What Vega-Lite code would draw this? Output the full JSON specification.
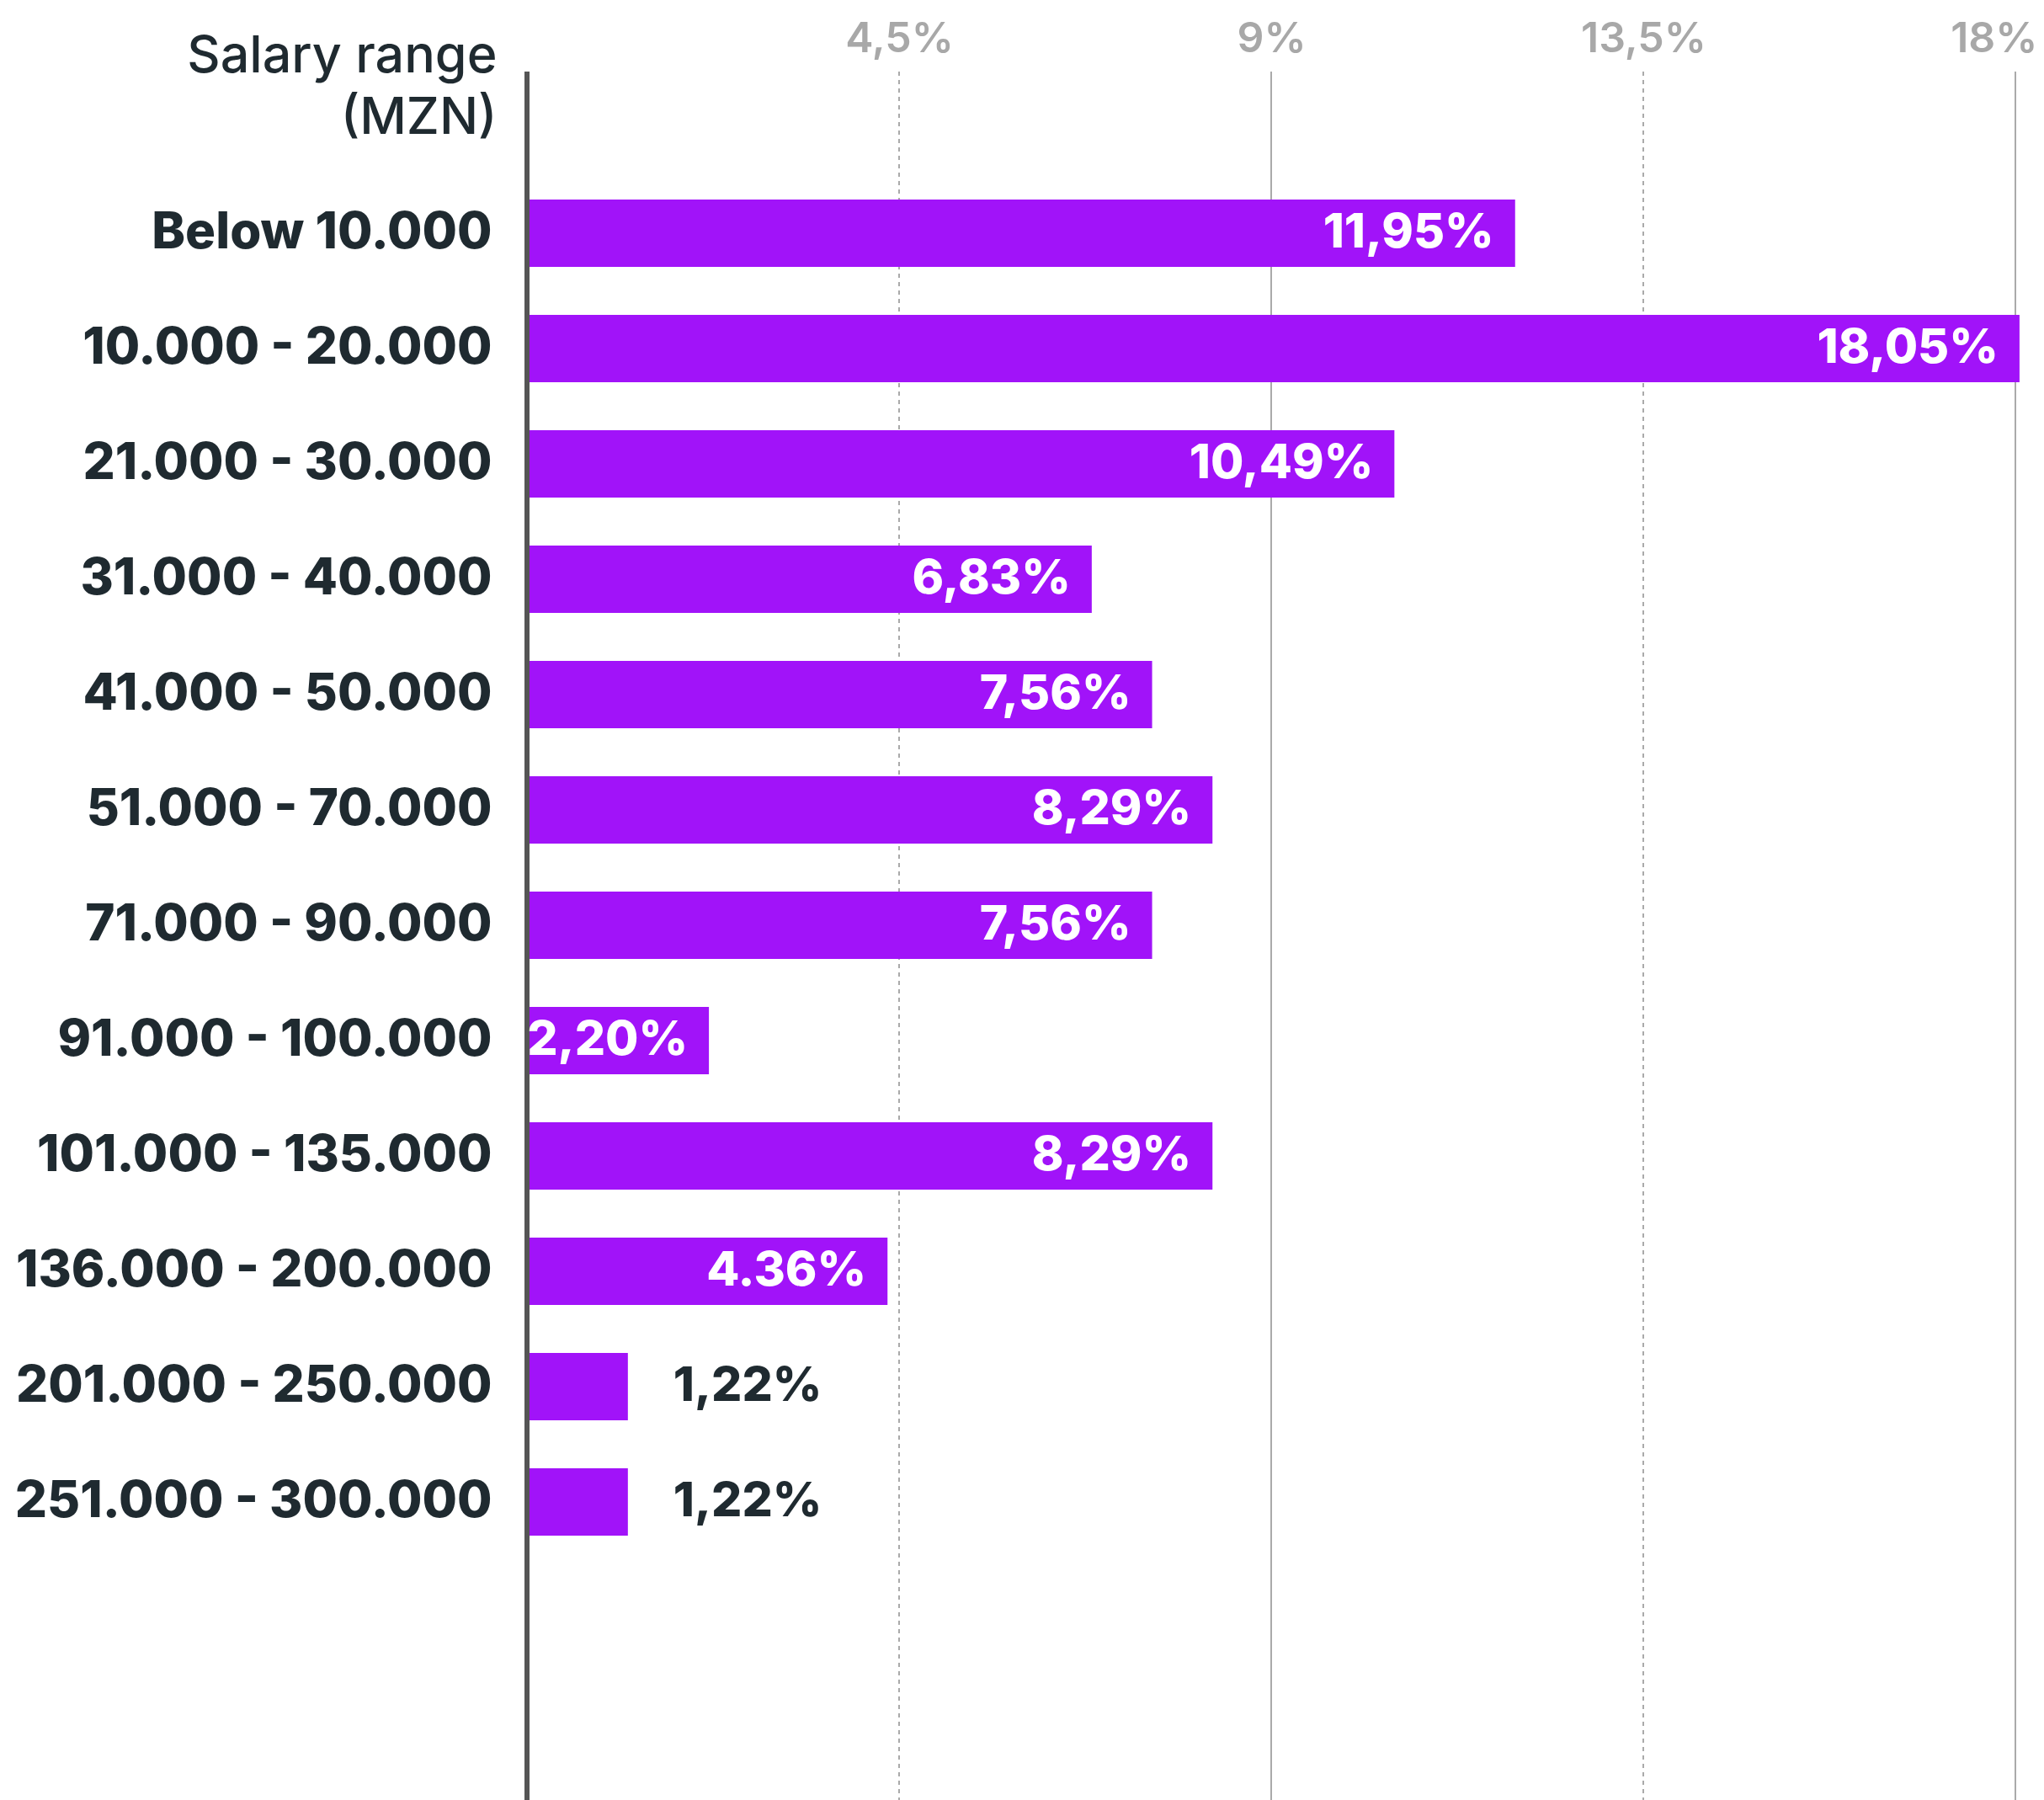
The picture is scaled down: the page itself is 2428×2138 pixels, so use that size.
{
  "$schema": "https://vega.github.io/schema/vega-lite/v6.json",
  "width": 1768,
  "height": 2053,
  "autosize": "none",
  "padding": {"left": 626, "top": 85, "right": 34, "bottom": 0},
  "background": "white",
  "config": {"view": {"stroke": null}, "font": "Inter"},
  "data": {
    "values": [
      {"range": "Below 10.000", "pct": 11.95, "label": "11,95%"},
      {"range": "10.000 - 20.000", "pct": 18.05, "label": "18,05%"},
      {"range": "21.000 - 30.000", "pct": 10.49, "label": "10,49%"},
      {"range": "31.000 - 40.000", "pct": 6.83, "label": "6,83%"},
      {"range": "41.000 - 50.000", "pct": 7.56, "label": "7,56%"},
      {"range": "51.000 - 70.000", "pct": 8.29, "label": "8,29%"},
      {"range": "71.000 - 90.000", "pct": 7.56, "label": "7,56%"},
      {"range": "91.000 - 100.000", "pct": 2.20, "label": "2,20%"},
      {"range": "101.000 - 135.000", "pct": 8.29, "label": "8,29%"},
      {"range": "136.000 - 200.000", "pct": 4.36, "label": "4.36%"},
      {"range": "201.000 - 250.000", "pct": 1.22, "label": "1,22%"},
      {"range": "251.000 - 300.000", "pct": 1.22, "label": "1,22%"}
    ]
  },
  "layer": [
    {
      "data": {"values": [{"tick": 4.5}, {"tick": 9}, {"tick": 13.5}, {"tick": 18}]},
      "mark": {"type": "rule", "color": "#aaaaaa", "strokeWidth": 2},
      "encoding": {
        "x": {
          "field": "tick",
          "type": "quantitative",
          "scale": {"domain": [0, 18], "nice": false},
          "axis": {
            "orient": "top",
            "title": null,
            "values": [4.5, 9, 13.5, 18],
            "labelExpr": "replace(datum.value + '', '.', ',') + '%'",
            "labelFont": "Inter",
            "labelFontSize": 50,
            "labelFontWeight": 600,
            "labelColor": "#a8a8a8",
            "labelBaseline": "middle",
            "labelPadding": 39,
            "labelFlush": true,
            "labelFlushOffset": 26,
            "ticks": false,
            "tickSize": 0,
            "domain": false,
            "grid": false
          }
        },
        "strokeDash": {"condition": {"test": "datum.tick % 9 !== 0", "value": [5, 5]}, "value": [1, 0]}
      }
    },
    {
      "mark": {"type": "bar", "color": "#A113F9"},
      "encoding": {
        "x": {"field": "pct", "type": "quantitative"},
        "y": {
          "field": "range",
          "type": "nominal",
          "sort": null,
          "scale": {"range": [152, 1739], "paddingInner": 0.416, "paddingOuter": 0},
          "axis": {
            "title": ["Salary range", "(MZN)"],
            "titleAngle": 0,
            "titleAlign": "right",
            "titleBaseline": "middle",
            "titleX": -36,
            "titleY": -18,
            "titleFont": "Inter",
            "titleFontSize": 61,
            "titleFontWeight": 500,
            "titleColor": "#1f2a30",
            "titleLineHeight": 73,
            "labelFont": "Inter",
            "labelFontSize": 60,
            "labelFontWeight": 800,
            "labelColor": "#1f2a30",
            "labelPadding": 42,
            "labelLimit": 1000,
            "ticks": false,
            "tickSize": 0,
            "domain": false,
            "grid": false
          }
        }
      }
    },
    {
      "data": {"values": [{"axis": 0}]},
      "mark": {"type": "rule", "color": "#555555", "strokeWidth": 6},
      "encoding": {"x": {"field": "axis", "type": "quantitative"}}
    },
    {
      "transform": [{"filter": "datum.pct >= 2"}],
      "mark": {"type": "text", "align": "right", "baseline": "middle", "dx": -25, "color": "white", "font": "Inter", "fontSize": 57, "fontWeight": 800},
      "encoding": {
        "x": {"field": "pct", "type": "quantitative"},
        "y": {"field": "range", "type": "nominal", "sort": null},
        "text": {"field": "label"}
      }
    },
    {
      "transform": [{"filter": "datum.pct < 2"}],
      "mark": {"type": "text", "align": "left", "baseline": "middle", "dx": 54, "color": "#1f2a30", "font": "Inter", "fontSize": 57, "fontWeight": 800},
      "encoding": {
        "x": {"field": "pct", "type": "quantitative"},
        "y": {"field": "range", "type": "nominal", "sort": null},
        "text": {"field": "label"}
      }
    }
  ]
}
